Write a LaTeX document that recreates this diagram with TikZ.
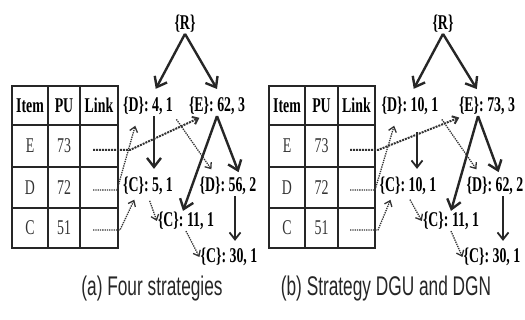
\documentclass[tikz,border=0pt]{standalone}
\usepackage{fontspec}
\usetikzlibrary{arrows.meta}
\newfontfamily\treefont[FakeStretch=0.66]{Liberation Serif}
\newfontfamily\capfont[FakeStretch=0.64]{Liberation Sans}

\tikzset{
  tabline/.style={line width=2.4pt, black!85},
  head/.style={font=\treefont\bfseries\fontsize{21}{23}\selectfont, inner sep=1pt},
  cell/.style={font=\treefont\fontsize{21}{23}\selectfont, inner sep=1pt, black!80},
  treenode/.style={font=\treefont\bfseries\fontsize{21}{23}\selectfont, inner sep=1pt},
  treearrow/.style={line width=2.4pt, black!85, -{Straight Barb[length=9pt,width=14pt]}},
  thinarrow/.style={line width=1.8pt, black!85, -{Straight Barb[length=7pt,width=11pt]}},
  linkarrow/.style={densely dotted, line width=1.3pt, black!80, -{Straight Barb[length=5pt,width=8pt]}},
  caption/.style={font=\capfont\fontsize{27}{29}\selectfont, black!85}
}

\begin{document}
\begin{tikzpicture}[x=1pt, y=-1pt]
\useasboundingbox (0,0) rectangle (525,320);

% (a)
\draw[tabline] (12,86) rectangle (118,248) (48,86) -- (48,248) (80,86) -- (80,248)
  (12,125) -- (118,125) (12,167) -- (118,167) (12,208) -- (118,208);
\node[head] (a-item) at (30,105.5) {Item};
\node[head] (a-pu) at (64,105.5) {PU};
\node[head] (a-link) at (99,105.5) {Link};
\node[cell] (a-e) at (30,146) {E};
\node[cell] (a-e73) at (64,146) {73};
\node[cell] (a-d) at (30,187.5) {D};
\node[cell] (a-d72) at (64,187.5) {72};
\node[cell] (a-c) at (30,228) {C};
\node[cell] (a-c51) at (64,228) {51};
\coordinate (a-le) at (93,150);
\coordinate (a-ld) at (93,190);
\coordinate (a-lc) at (93,230);

\node[treenode] (a-R) at (185,24) {\{R\}};
\node[treenode] (a-RD) at (148,106) {\{D\}: 4, 1};
\node[treenode] (a-RE) at (217,106) {\{E\}: 62, 3};
\node[treenode] (a-RDC) at (148,186) {\{C\}: 5, 1};
\node[treenode] (a-RED) at (228,186) {\{D\}: 56, 2};
\node[treenode] (a-REC) at (186,221) {\{C\}: 11, 1};
\node[treenode] (a-REDC) at (229,257) {\{C\}: 30, 1};

\draw[treearrow, shorten >=8pt] (a-R.south) -- ([xshift=4pt]a-RD.north);
\draw[treearrow, shorten >=8pt] (a-R.south) -- ([xshift=4pt]a-RE.north);
\draw[treearrow, shorten >=7pt] ([xshift=6pt]a-RD.south) -- ([xshift=6pt]a-RDC.north);
\draw[treearrow, shorten >=4pt] (a-RE.south) -- ([xshift=12pt]a-RED.north);
\draw[treearrow] (a-RE.south) -- ([xshift=-3pt]a-REC.north);
\draw[thinarrow, shorten >=6pt] ([xshift=7pt]a-RED.south) -- ([xshift=6pt]a-REDC.north);
\draw[linkarrow, shorten <=5pt] (a-RDC.south) -- (a-REC.west);
\draw[linkarrow] (a-REC.south) -- (a-REDC.west);
\draw[linkarrow, shorten <=4pt, shorten >=8pt] (a-RD.south east) -- ([xshift=-12pt]a-RED.north);
\draw[linkarrow, line width=2pt, shorten >=4pt] (a-le) -- ++(37,0) -- ([xshift=-14pt]a-RE.south);
\draw[linkarrow, shorten >=10pt] (a-ld) -- ++(24,0) -- ([xshift=-10pt]a-RD.south);
\draw[linkarrow, shorten >=4pt] (a-lc) -- ++(27,0) -- ([xshift=-12pt]a-RDC.south);
\node[caption] (a-cap) at (152,289) {(a) Four strategies};

% (b)
\draw[tabline] (269,86) rectangle (375,248) (305,86) -- (305,248) (338,86) -- (338,248)
  (269,125) -- (375,125) (269,167) -- (375,167) (269,208) -- (375,208);
\node[head] (b-item) at (287,105.5) {Item};
\node[head] (b-pu) at (321.5,105.5) {PU};
\node[head] (b-link) at (356.5,105.5) {Link};
\node[cell] (b-e) at (287,146) {E};
\node[cell] (b-e73) at (321.5,146) {73};
\node[cell] (b-d) at (287,187.5) {D};
\node[cell] (b-d72) at (321.5,187.5) {72};
\node[cell] (b-c) at (287,228) {C};
\node[cell] (b-c51) at (321.5,228) {51};
\coordinate (b-le) at (350,150);
\coordinate (b-ld) at (350,190);
\coordinate (b-lc) at (350,230);

\node[treenode] (b-R) at (443,24) {\{R\}};
\node[treenode] (b-RD) at (410,106) {\{D\}: 10, 1};
\node[treenode] (b-RE) at (487,106) {\{E\}: 73, 3};
\node[treenode] (b-RDC) at (408,186) {\{C\}: 10, 1};
\node[treenode] (b-RED) at (495,186) {\{D\}: 62, 2};
\node[treenode] (b-REC) at (451,221) {\{C\}: 11, 1};
\node[treenode] (b-REDC) at (492,257) {\{C\}: 30, 1};

\draw[treearrow, shorten >=8pt] (b-R.south) -- (b-RD.north);
\draw[treearrow, shorten >=8pt] (b-R.south) -- ([xshift=-6pt]b-RE.north);
\draw[thinarrow, shorten <=16pt, shorten >=7pt] ([xshift=7pt]b-RD.south) -- ([xshift=9pt]b-RDC.north);
\draw[treearrow, shorten >=4pt] ([xshift=-9pt]b-RE.south) -- ([xshift=5pt]b-RED.north);
\draw[treearrow] ([xshift=-9pt]b-RE.south) -- (b-REC.north);
\draw[thinarrow, shorten >=6pt] ([xshift=8pt]b-RED.south) -- ([xshift=11pt]b-REDC.north);
\draw[linkarrow, shorten <=4pt] (b-RDC.south) -- (b-REC.west);
\draw[linkarrow] (b-REC.south) -- (b-REDC.west);
\draw[linkarrow, shorten <=4pt, shorten >=8pt] (b-RD.south east) -- ([xshift=-14pt]b-RED.north);
\draw[linkarrow, line width=2pt, shorten >=4pt] (b-le) -- ++(28,0) -- ([xshift=-24pt]b-RE.south);
\draw[linkarrow, shorten >=10pt] (b-ld) -- ++(25,0) -- ([xshift=-13pt]b-RD.south);
\draw[linkarrow, shorten >=4pt] (b-lc) -- ++(28,0) -- ([xshift=-16pt]b-RDC.south);
\node[caption] (b-cap) at (386,289) {(b) Strategy DGU and DGN};
\end{tikzpicture}
\end{document}
